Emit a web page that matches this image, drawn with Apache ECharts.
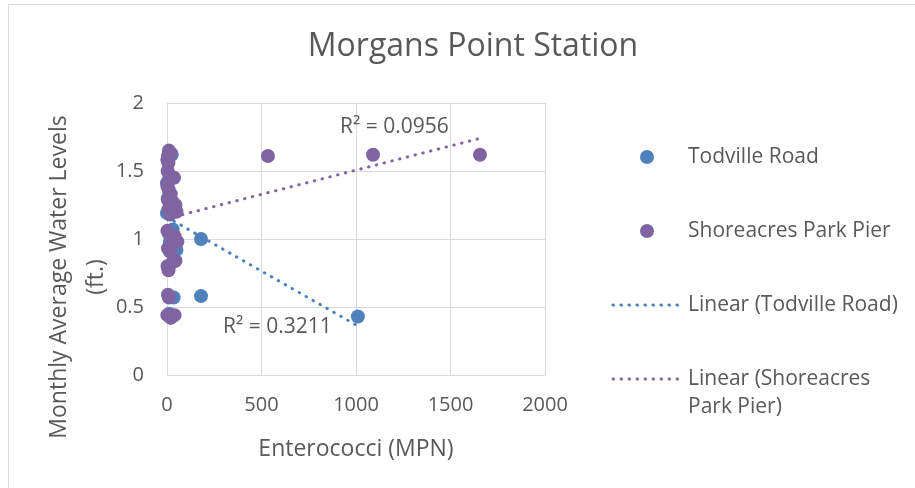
<!DOCTYPE html>
<html>
<head>
<meta charset="utf-8">
<script src="https://cdn.jsdelivr.net/npm/echarts@6/dist/echarts.min.js"></script>
<style>
html,body{margin:0;padding:0;background:#fff;}
#chart{width:915px;height:488px;}
</style>
</head>
<body>
<div id="chart"></div>
<script>
// Data: [Enterococci (MPN), water level (ft.)]
var todvilleRoad = [
  [25,1.62],[0,1.41],[5,1.30],[10,1.20],[0,1.19],[30,1.07],[15,0.98],
  [50,0.92],[8,0.80],[35,0.57],[12,0.45],
  [180,1.00],[180,0.58],[1010,0.43]
];
var shoreacresParkPier = [
  [10,1.65],[20,1.63],[5,1.61],[2,1.58],[8,1.56],[3,1.50],[12,1.47],[37,1.45],
  [5,1.42],[2,1.39],[10,1.36],[20,1.33],[4,1.29],[30,1.27],[45,1.25],[8,1.22],
  [50,1.20],[15,1.18],[2,1.06],[10,1.04],[40,1.02],[55,0.98],[25,0.96],[5,0.93],
  [15,0.91],[45,0.84],[30,0.83],[3,0.80],[8,0.77],[5,0.59],[10,0.57],[2,0.44],
  [40,0.44],[20,0.42],
  [534,1.61],[1090,1.62],[1656,1.62]
];
// Trendline end points
var trendTodville = [[0,1.16],[1010,0.36]];
var trendShoreacres = [[0,1.15],[1656,1.74]];
var xTicks = [0,500,1000,1500,2000];
var yTicks = [0,0.5,1,1.5,2];
var r2Todville = 'R² = 0.3211';
var r2Shoreacres = 'R² = 0.0956';

var BLUE = '#4F81BD', PURPLE = '#8064A2', TXT = '#595959', GRID = '#D9D9D9';
var FONT = 'Open Sans';

var chart = echarts.init(document.getElementById('chart'), null, {renderer:'canvas'});
var dotted = [0.5, 7.5];

chart.setOption({
  animation: false,
  backgroundColor: '#fff',
  title: {
    text: 'Morgans Point Station',
    left: 468, top: 26, textAlign: 'center',
    textStyle: {fontFamily: FONT, fontSize: 32, fontWeight: 'normal', color: TXT}
  },
  grid: {left: 167, right: 370, top: 103, bottom: 113},
  xAxis: {
    type: 'value', min: 0, max: 2000, interval: 500,
    name: 'Enterococci (MPN)', nameLocation: 'middle', nameGap: 63,
    nameTextStyle: {fontFamily: FONT, fontSize: 23, color: TXT},
    axisLine: {show: true, lineStyle: {color: GRID, width: 1}},
    axisTick: {show: false},
    splitLine: {show: true, lineStyle: {color: GRID, width: 1}},
    axisLabel: {fontFamily: FONT, fontSize: 20, color: TXT, margin: 20,
      formatter: function(v){ return xTicks.indexOf(v) >= 0 ? String(v) : ''; }}
  },
  yAxis: {
    type: 'value', min: 0, max: 2, interval: 0.5,
    axisLine: {show: true, lineStyle: {color: GRID, width: 1}},
    axisTick: {show: false},
    splitLine: {show: true, lineStyle: {color: GRID, width: 1}},
    axisLabel: {fontFamily: FONT, fontSize: 20, color: TXT, margin: 23,
      formatter: function(v){ return yTicks.indexOf(v) >= 0 ? String(v) : ''; }}
  },
  series: [
    {type: 'scatter', name: 'Todville Road', data: todvilleRoad, symbol: 'circle',
      symbolSize: 14, itemStyle: {color: BLUE, opacity: 1}, z: 2},
    {type: 'scatter', name: 'Shoreacres Park Pier', data: shoreacresParkPier, symbol: 'circle',
      symbolSize: 14, itemStyle: {color: PURPLE, opacity: 1}, z: 3},
    {type: 'line', name: 'Linear (Todville Road)', data: trendTodville, symbol: 'none',
      lineStyle: {color: BLUE, width: 3, type: dotted, cap: 'round'}, z: 4},
    {type: 'line', name: 'Linear (Shoreacres Park Pier)', data: trendShoreacres, symbol: 'none',
      lineStyle: {color: PURPLE, width: 3, type: dotted, cap: 'round'}, z: 4}
  ],
  graphic: [
    {type: 'rect', shape: {x: 8.5, y: 4.5, width: 1200, height: 1200},
      style: {fill: 'none', stroke: GRID, lineWidth: 1}, silent: true, z: 0},
    // y axis title
    {type: 'text', x: 78, y: 277, rotation: Math.PI / 2, z: 10,
      style: {text: 'Monthly Average Water Levels\n(ft.)', fontFamily: FONT, fontSize: 23,
        lineHeight: 37, fill: TXT, align: 'center', verticalAlign: 'middle'}},
    {type: 'text', left: 340, top: 117, z: 10,
      style: {text: r2Shoreacres, fontFamily: FONT, fontSize: 21, fill: TXT}},
    {type: 'text', left: 223, top: 317, z: 10,
      style: {text: r2Todville, fontFamily: FONT, fontSize: 21, fill: TXT}},
    // legend
    {type: 'circle', shape: {cx: 647, cy: 157, r: 7}, style: {fill: BLUE}, z: 10},
    {type: 'text', x: 688, y: 157, z: 10,
      style: {text: 'Todville Road', fontFamily: FONT, fontSize: 21, fill: TXT, verticalAlign: 'middle'}},
    {type: 'circle', shape: {cx: 647, cy: 231, r: 7}, style: {fill: PURPLE}, z: 10},
    {type: 'text', x: 688, y: 231, z: 10,
      style: {text: 'Shoreacres Park Pier', fontFamily: FONT, fontSize: 21, fill: TXT, verticalAlign: 'middle'}},
    {type: 'line', shape: {x1: 613, y1: 305, x2: 681, y2: 305}, z: 10,
      style: {stroke: BLUE, lineWidth: 3, lineDash: dotted, lineCap: 'round'}},
    {type: 'text', x: 688, y: 305, z: 10,
      style: {text: 'Linear (Todville Road)', fontFamily: FONT, fontSize: 21, fill: TXT, verticalAlign: 'middle'}},
    {type: 'line', shape: {x1: 613, y1: 379, x2: 681, y2: 379}, z: 10,
      style: {stroke: PURPLE, lineWidth: 3, lineDash: dotted, lineCap: 'round'}},
    {type: 'text', x: 688, y: 379, z: 10,
      style: {text: 'Linear (Shoreacres', fontFamily: FONT, fontSize: 21, fill: TXT, verticalAlign: 'middle'}},
    {type: 'text', x: 688, y: 407, z: 10,
      style: {text: 'Park Pier)', fontFamily: FONT, fontSize: 21, fill: TXT, verticalAlign: 'middle'}}
  ]
});
</script>
</body>
</html>
